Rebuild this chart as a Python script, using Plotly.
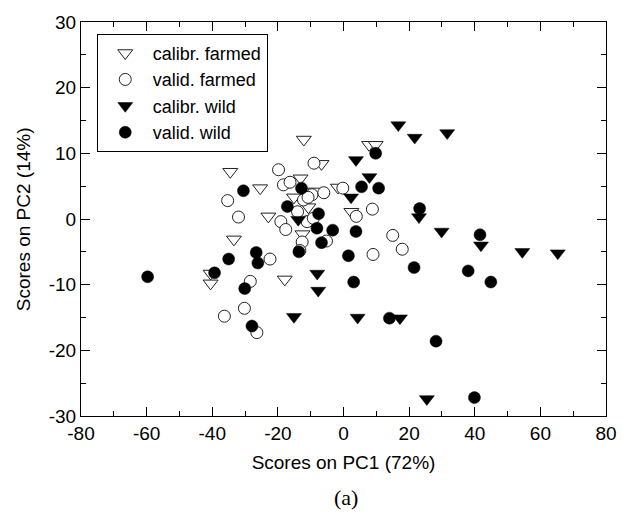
import plotly.graph_objects as go

# calibr. farmed (open down-triangles)
cf_x = [-12.1, 7.8, 9.8, -34.5, -6.7, -13.1, -25.4, -8.7, -15.1, -10.7, -22.9, -1.7, 2.4, -12.5, -33.4, -40.5, -40.5, -17.9]
cf_y = [12.1, 11.3, 11.3, 7.2, 8.4, 6.2, 4.7, 4.2, 3.3, 1.8, 0.4, 4.8, 1.1, -2.3, -3.1, -8.3, -9.8, -9.2]

# valid. farmed (open circles)
vf_x = [-19.8, -9.0, -18.3, -16.3, -9.6, -6.0, -12.2, -10.8, -14.0, -11.1, -9.2, -19.1, -17.6, -0.2, 3.9, 8.8,
        -35.3, -32.0, -12.6, -13.3, -5.2, -22.4, 9.0, 15.0, 17.9, -28.4, -30.2, -36.3, -26.4]
vf_y = [7.5, 8.5, 5.2, 5.6, 3.7, 4.0, 2.9, 3.3, 1.1, -0.4, 0.1, -0.4, -1.6, 4.7, 0.4, 1.5,
        2.8, 0.3, -3.5, -4.8, -3.35, -6.1, -5.4, -2.5, -4.6, -9.5, -13.6, -14.8, -17.3]

# calibr. wild (filled down-triangles)
cw_x = [16.7, 21.7, 31.6, 3.8, 7.9, 2.3, -13.8, 23.0, 29.9, 41.9, 54.5, 65.3, -8.0, -7.7, -15.1, 4.3, 17.2, 25.4]
cw_y = [14.3, 12.4, 13.1, 9.0, 6.4, 3.3, -0.1, 0.3, -1.9, -4.0, -5.0, -5.2, -8.3, -10.9, -14.9, -15.0, -15.1, -27.4]

# valid. wild (filled circles)
vw_x = [9.8, 5.5, 10.7, -12.8, -30.5, -17.1, -7.6, -8.1, -3.3, 3.8, 1.5, -13.6, -6.7, -35.0, -26.6, -26.1,
        -39.3, -59.7, -30.1, -27.9, 3.1, 14.0, 23.2, 41.6, 21.5, 38.0, 44.9, 28.2, 39.9]
vw_y = [10.0, 4.9, 4.7, 4.7, 4.3, 1.9, 0.8, -1.4, -1.7, -1.9, -5.6, -5.0, -3.6, -6.1, -5.1, -6.7,
        -8.2, -8.8, -10.6, -16.3, -9.6, -15.1, 1.6, -2.4, -7.4, -7.9, -9.6, -18.6, -27.2]

x_ticks = [-80, -60, -40, -20, 0, 20, 40, 60, 80]
y_ticks = [-30, -20, -10, 0, 10, 20, 30]

FONT = "Liberation Sans, Arial, sans-serif"

fig = go.Figure()
fig.add_trace(go.Scatter(x=cf_x, y=cf_y, mode="markers", name="calibr. farmed",
                         marker=dict(symbol="triangle-down", size=13, color="white",
                                     line=dict(color="#222", width=1))))
fig.add_trace(go.Scatter(x=vf_x, y=vf_y, mode="markers", name="valid. farmed",
                         marker=dict(symbol="circle", size=12, color="white",
                                     line=dict(color="#222", width=1))))
fig.add_trace(go.Scatter(x=cw_x, y=cw_y, mode="markers", name="calibr. wild",
                         marker=dict(symbol="triangle-down", size=13, color="black",
                                     line=dict(color="black", width=0.5))))
fig.add_trace(go.Scatter(x=vw_x, y=vw_y, mode="markers", name="valid. wild",
                         marker=dict(symbol="circle", size=12, color="black",
                                     line=dict(color="black", width=0.5))))

axis_common = dict(showgrid=False, zeroline=False, showline=True, linecolor="black", linewidth=1,
                   mirror="allticks", ticks="inside", ticklen=9, tickwidth=1, tickcolor="black",
                   tickfont=dict(family=FONT, size=19, color="black"))

fig.update_xaxes(range=[-80, 80], tickvals=x_ticks, ticktext=[str(v) for v in x_ticks],
                 minor=dict(dtick=10, ticks="inside", ticklen=5, tickcolor="black", showgrid=False),
                 title=dict(text="Scores on PC1 (72%)", font=dict(family=FONT, size=19, color="black"), standoff=12),
                 **axis_common)
fig.update_yaxes(range=[-30, 30], tickvals=y_ticks, ticktext=[str(v) for v in y_ticks],
                 minor=dict(dtick=5, ticks="inside", ticklen=5, tickcolor="black", showgrid=False),
                 **axis_common)

fig.add_annotation(text="Scores on PC2 (14%)", xref="paper", yref="paper", x=-0.11, y=0.5,
                   xanchor="center", yanchor="middle", textangle=-90, showarrow=False,
                   font=dict(family=FONT, size=19, color="black"))

fig.add_annotation(text="(a)", xref="paper", yref="paper", x=0.505, y=-0.17, yanchor="top",
                   showarrow=False, font=dict(family="Liberation Serif, Times New Roman, serif", size=22, color="black"))

fig.update_layout(
    width=628, height=521,
    margin=dict(l=81, r=11, t=22, b=105),
    plot_bgcolor="white", paper_bgcolor="white",
    showlegend=True,
    legend=dict(x=0.03, y=0.97, xanchor="left", yanchor="top",
                bordercolor="black", borderwidth=1, bgcolor="white",
                font=dict(family=FONT, size=18, color="black"),
                tracegroupgap=0, itemwidth=45),
)

fig.write_html("out.html")
